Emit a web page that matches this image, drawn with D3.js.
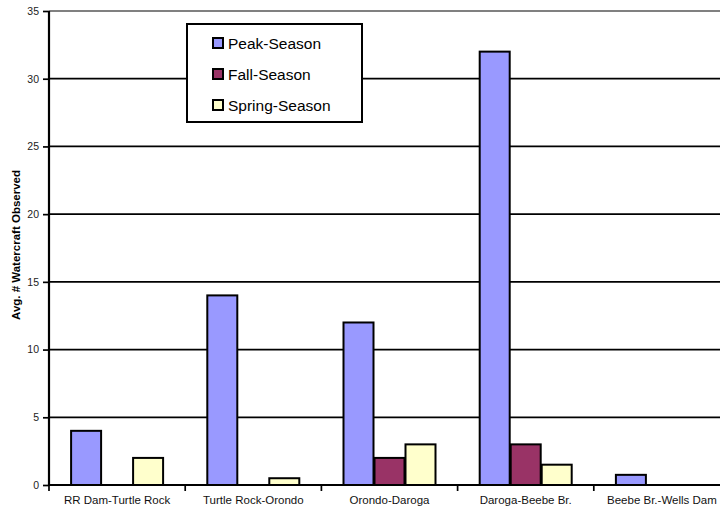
<!DOCTYPE html>
<html><head><meta charset="utf-8">
<script src="https://cdn.jsdelivr.net/npm/d3@7"></script>
<style>body{margin:0;background:#fff}svg{display:block}text{font-family:Arial,"Liberation Sans",sans-serif}</style>
</head><body><svg id="c" width="723" height="512"></svg>
<script>
const categories = ["RR Dam-Turtle Rock","Turtle Rock-Orondo","Orondo-Daroga","Daroga-Beebe Br.","Beebe Br.-Wells Dam"];
const seriesNames = ["Peak-Season","Fall-Season","Spring-Season"];
const peakSeason = [4, 14, 12, 32, 0.75];
const fallSeason = [0, 0, 2, 3, 0];
const springSeason = [2, 0.5, 3, 1.5, 0];
const yTicks = [0,5,10,15,20,25,30,35];
const colors = ["#9999FF","#993366","#FFFFCC"];

const values = [peakSeason, fallSeason, springSeason];
const svg = d3.select("#c");
const L = 49, T = 11, B = 485, Rgrid = 720, Rband = 730;
const y = d3.scaleLinear().domain([0,35]).range([B,T]);
const x = d3.scaleBand().domain(categories).range([L,Rband]).paddingInner(0).paddingOuter(0);
const bw = x.bandwidth();
const groupW = 93, off = (bw - groupW)/2;
const xs = d3.scaleBand().domain(seriesNames).range([off, off+groupW]);

// gridlines
svg.append("g").selectAll("line").data(yTicks.filter(d=>d>0)).join("line")
  .attr("x1",L).attr("x2",Rgrid).attr("y1",d=>y(d)).attr("y2",d=>y(d))
  .attr("stroke",d=>d===35?"#808080":"#000").attr("stroke-width",d=>d===35?2:1.7);

// bars
seriesNames.forEach((s,si)=>{
  svg.append("g").selectAll("rect").data(categories.map((c,i)=>({c,v:values[si][i]})).filter(d=>d.v>0)).join("rect")
    .attr("x",d=>x(d.c)+xs(s)+0.5)
    .attr("width",xs.bandwidth()-1)
    .attr("y",d=>y(d.v)).attr("height",d=>y(0)-y(d.v))
    .attr("fill",colors[si]).attr("stroke","#000").attr("stroke-width",2);
});

// y axis
const ya = d3.axisLeft(y).tickValues(yTicks).tickSize(6).tickPadding(4);
const gy = svg.append("g").attr("transform",`translate(${L},0)`).call(ya);
gy.select(".domain").attr("stroke","#000").attr("stroke-width",2.2).attr("d",`M0,${T}V${B}`);
gy.selectAll(".tick line").attr("stroke","#000").attr("stroke-width",1.7);
gy.selectAll(".tick text").attr("font-size",10.5).attr("fill","#222").attr("font-family","Arial, Liberation Sans, sans-serif");

// x axis
const xa = d3.axisBottom(x).tickSize(0).tickPadding(11);
const gx = svg.append("g").attr("transform",`translate(0,${B})`).call(xa);
gx.select(".domain").attr("stroke","#000").attr("stroke-width",2.2).attr("d",`M${L},0H${Rgrid}`);
gx.selectAll(".tick text").attr("font-size",11.5).attr("fill","#111").attr("font-family","Arial, Liberation Sans, sans-serif");
// category boundary ticks
const bounds = categories.map(c=>x(c));
svg.append("g").selectAll("line").data(bounds).join("line")
  .attr("x1",d=>d).attr("x2",d=>d).attr("y1",B).attr("y2",B+6)
  .attr("stroke","#000").attr("stroke-width",1.7);

// y title
svg.append("text").attr("transform",`translate(20,245) rotate(-90)`)
  .attr("text-anchor","middle").attr("font-size",11.5).attr("font-weight","bold")
  .text("Avg. # Watercraft Observed");

// legend
const lg = svg.append("g");
lg.append("rect").attr("x",187).attr("y",24).attr("width",175).attr("height",98)
  .attr("fill","#fff").attr("stroke","#000").attr("stroke-width",2);
const ly = d3.scalePoint().domain(seriesNames).range([43,105]);
seriesNames.forEach((s,i)=>{
  lg.append("rect").attr("x",213).attr("y",ly(s)-5).attr("width",10).attr("height",10)
    .attr("fill",colors[i]).attr("stroke","#000").attr("stroke-width",2);
  lg.append("text").attr("x",228).attr("y",ly(s)).attr("dy","0.36em").attr("font-size",15.5).text(s);
});
</script></body></html>
